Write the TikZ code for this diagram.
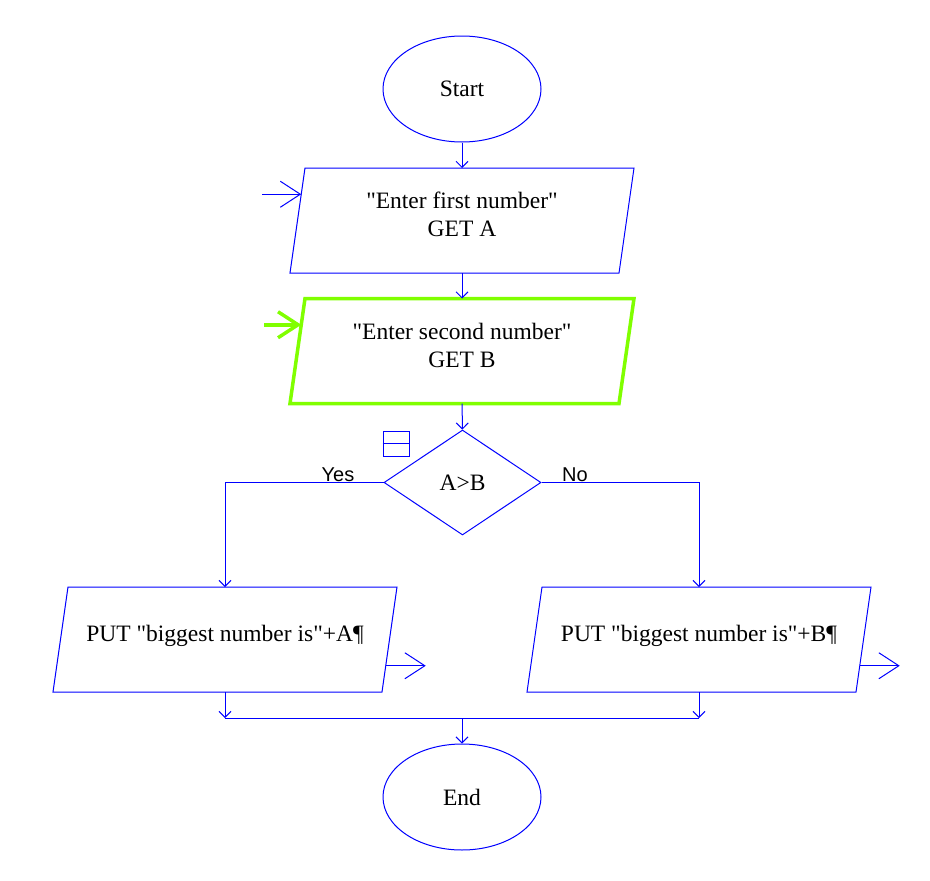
\documentclass[tikz,border=0pt]{standalone}
\usepackage{fontspec}
\setmainfont{Liberation Serif}
\newfontfamily\labelfont{Liberation Sans}
\usetikzlibrary{arrows.meta,calc,shapes.geometric}
\definecolor{flowblue}{RGB}{0,0,255}
\definecolor{hilite}{RGB}{128,255,0}
\newcommand\qt{\textquotedbl}
% slanted in/out box drawn round a plain rectangle node
\newcommand\ioshape[2][]{%
  \draw[line,#1] ([xshift=7.5pt]#2.north west) -- ([xshift=7.5pt]#2.north east)
    -- ([xshift=-7.5pt]#2.south east) -- ([xshift=-7.5pt]#2.south west) -- cycle;}

\begin{document}
\begin{tikzpicture}[x=1pt,y=-1pt,font=\fontsize{23.5}{28}\selectfont,
  every node/.style={inner sep=0pt},
  line/.style={flowblue,line width=1pt},
  flow/.style={line,-{Straight Barb[length=6pt,width=12pt]}},
  port/.style={line,-{Straight Barb[length=20pt,width=26pt]}},
  term/.style={ellipse,draw=flowblue,line width=1pt,minimum width=158pt,minimum height=106pt},
  io/.style={rectangle,outer sep=0pt,minimum width=329pt,minimum height=105pt},
  iotext/.style={align=center,yshift=6pt},
  test/.style={diamond,draw=flowblue,line width=1pt,minimum width=157pt,minimum height=105pt},
  yn/.style={font=\labelfont\fontsize{20}{24}\selectfont,anchor=base}]
\useasboundingbox (0,0) rectangle (930,881);
% --- the boxes ---
\node[term] (start) at (462,89) {Start};
\node[io] (in1) at (462,220.5) {};
\ioshape{in1}
\node[iotext] (in1txt) at (in1.center) {\qt Enter first number\qt\\GET A};
\node[io] (in2) at (462,351) {};
\ioshape[hilite,line width=3.5pt]{in2}
\node[iotext] (in2txt) at (in2.center) {\qt Enter second number\qt\\GET B};
\node[test] (test) at (462.5,482.5) {A>B};
\node[io] (out1) at (225,639.5) {};
\ioshape{out1}
\node[iotext,yshift=-2pt] (out1txt) at (out1.center) {PUT \qt biggest number is\qt+A¶};
\node[io] (out2) at (699,639.5) {};
\ioshape{out2}
\node[iotext,yshift=-2pt] (out2txt) at (out2.center) {PUT \qt biggest number is\qt+B¶};
\node[term] (end) at (462,797) {End};
\node[draw=flowblue,line width=1pt,minimum width=26pt,minimum height=25pt] (mark) at (396,443.5) {};
\draw[line] (mark.west) -- (mark.east);
% --- the main flow ---
\draw[flow] (start) -- (in1);
\draw[flow] (in1) -- (in2);
\draw[flow] (in2) -- (test);
\draw[flow] (test.west) -| (out1.north);
\draw[flow] (test.east) -| (out2.north);
\node[yn] (yes) at (338,481) {Yes};
\node[yn] (no) at (575,481) {No};
\coordinate (join) at (462,718);
\draw[flow] (out1.south) -- (out1.south |- join);
\draw[flow] (out2.south) -- (out2.south |- join);
\draw[line] (out1.south |- join) -- (out2.south |- join);
\draw[flow] (join) -- (end);
% --- in and out ports ---
\coordinate (in1pin) at ($([xshift=7.5pt]in1.north west)!0.25!([xshift=-7.5pt]in1.south west)$);
\coordinate (in1src) at ([xshift=-39pt]in1pin);
\draw[port] (in1src) -- (in1pin);
\coordinate (in2pin) at ($([xshift=7.5pt]in2.north west)!0.25!([xshift=-7.5pt]in2.south west)$);
\coordinate (in2src) at ([xshift=-37pt]in2pin);
\draw[port,hilite,line width=3.5pt] (in2src) -- (in2pin);
\coordinate (out1pin) at ($([xshift=7.5pt]out1.north east)!0.75!([xshift=-7.5pt]out1.south east)$);
\coordinate (out1dst) at ([xshift=40pt]out1pin);
\draw[port] (out1pin) -- (out1dst);
\coordinate (out2pin) at ($([xshift=7.5pt]out2.north east)!0.75!([xshift=-7.5pt]out2.south east)$);
\coordinate (out2dst) at ([xshift=40pt]out2pin);
\draw[port] (out2pin) -- (out2dst);
\end{tikzpicture}
\end{document}
